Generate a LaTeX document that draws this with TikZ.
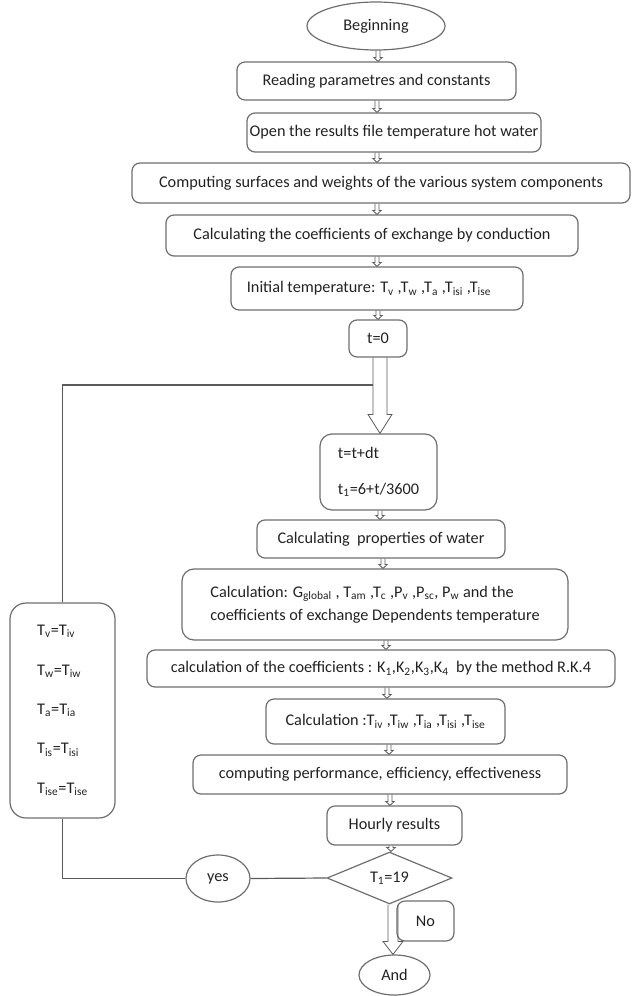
\documentclass[tikz,border=0pt]{standalone}
\usepackage{fontspec}
\setmainfont{Carlito}
\usetikzlibrary{shapes.geometric,calc}
\newcommand\sub[1]{\textsubscript{#1}}
\definecolor{bordc}{HTML}{6E6E6E}
\definecolor{linec}{HTML}{5A5A5A}
\definecolor{textc}{HTML}{222222}
% small hollow arrow between two stacked nodes, at abscissa #3 (px)
\newcommand\smallarr[3]{%
  \draw[arrline] let \p1=(#1.south), \p2=(#2.north), \p3=(#3,0) in
    (\x3-1.5pt,\y1) -- (\x3-1.5pt,\y2+3pt) -- (\x3-3.2pt,\y2+3pt) -- (\x3,\y2)
    -- (\x3+3.2pt,\y2+3pt) -- (\x3+1.5pt,\y2+3pt) -- (\x3+1.5pt,\y1);}
% big hollow arrow: #1 from, #2 to, #3 x (px), #4 shaft half, #5 head half, #6 head length
\newcommand\bigarr[6]{%
  \draw[arrline] let \p1=(#1), \p2=(#2.north), \p3=(#3,0) in
    (\x3-#4,\y1) -- (\x3-#4,\y2+#6) -- (\x3-#5,\y2+#6) -- (\x3,\y2)
    -- (\x3+#5,\y2+#6) -- (\x3+#4,\y2+#6) -- (\x3+#4,\y1);}
\tikzset{
  every node/.style={font=\fontsize{12.2}{15}\selectfont, text=textc},
  box/.style={draw=bordc, rounded corners=6pt, line width=0.9pt, inner sep=0pt, align=center},
  oval/.style={draw=bordc, ellipse, line width=0.9pt, inner sep=0pt},
  decis/.style={draw=bordc, diamond, line width=0.9pt, inner sep=0pt},
  arrline/.style={draw=linec, line width=0.6pt, line join=miter},
  conn/.style={draw=linec, line width=0.9pt}
}
\begin{document}
\begin{tikzpicture}[x=0.75pt, y=-0.75pt]
\useasboundingbox (0,0) rectangle (639,996);
\node[oval, minimum width=103.5pt, minimum height=36pt] (begin) at (376,26) {Beginning};
\node[box, minimum width=209.25pt, minimum height=28.5pt] (read) at (376.5,81) {Reading parametres and constants};
\node[box, minimum width=220.5pt, minimum height=29.25pt] (open) at (394,132.5) {Open the results file temperature hot water};
\node[box, minimum width=373.5pt, minimum height=30pt] (comp) at (381,183) {Computing surfaces and weights of the various system components};
\node[box, minimum width=309pt, minimum height=30.75pt] (coef) at (372,235.5) {Calculating the coefficients of exchange by conduction};
\node[box, minimum width=219pt, minimum height=32.25pt] (init) at (377,288.5) {Initial temperature: T\sub{v} ,T\sub{w} ,T\sub{a} ,T\sub{isi} ,T\sub{ise}\hspace{12pt}};
\node[box, minimum width=43.5pt, minimum height=27.75pt] (t0) at (378,338.5) {t=0};
\node[box, rounded corners=9pt, minimum width=87.75pt, minimum height=57pt, align=left, font=\fontsize{12.2}{27}\selectfont] (tdt) at (378.5,472) {t=t+dt\\t\sub{1}=6+t/3600};
\node[box, minimum width=186pt, minimum height=28.5pt] (props) at (381,539) {Calculating\ \ properties of water};
\node[box, rounded corners=9pt, minimum width=289.5pt, minimum height=53.25pt, align=left, font=\fontsize{12.2}{17.3}\selectfont] (calcg) at (375,604.5) {Calculation: G\sub{global} , T\sub{am} ,T\sub{c} ,P\sub{v} ,P\sub{sc}, P\sub{w} and the\\coefficients of exchange Dependents temperature};
\node[box, minimum width=351pt, minimum height=27.75pt] (kcoef) at (381,668.5) {calculation of the coefficients : K\sub{1},K\sub{2},K\sub{3},K\sub{4}\ \ by the method R.K.4};
\node[box, minimum width=179.25pt, minimum height=33.75pt] (calct) at (385.5,721.5) {Calculation :T\sub{iv} ,T\sub{iw} ,T\sub{ia} ,T\sub{isi} ,T\sub{ise}};
\node[box, minimum width=280.5pt, minimum height=29.25pt] (perf) at (380,774.5) {computing performance, efficiency, effectiveness};
\node[box, minimum width=101.25pt, minimum height=29.25pt] (hour) at (394.5,825.5) {Hourly results};
\node[decis, minimum width=93.75pt, minimum height=33pt] (dec) at (389.5,878) {T\sub{1}=19};
\node[box, minimum width=42.75pt, minimum height=30pt] (no) at (425.5,921) {No};
\node[oval, minimum width=53.25pt, minimum height=30pt] (end) at (394.5,975) {And};
\node[oval, minimum width=48pt, minimum height=35.25pt] (yes) at (218,878.5) {yes};
\node[box, rounded corners=12pt, minimum width=78.75pt, minimum height=161.25pt, align=left, font=\fontsize{12.2}{29.6}\selectfont] (upd) at (62.5,710.5)
  {T\sub{v}=T\sub{iv}\\T\sub{w}=T\sub{iw}\\T\sub{a}=T\sub{ia}\\T\sub{is}=T\sub{isi}\\T\sub{ise}=T\sub{ise}};
% small hollow arrows
\smallarr{begin}{read}{378}
\smallarr{read}{open}{377}
\smallarr{open}{comp}{377}
\smallarr{comp}{coef}{377}
\smallarr{coef}{init}{377}
\smallarr{init}{t0}{378}
\smallarr{tdt}{props}{380}
\smallarr{props}{calcg}{383}
\smallarr{calcg}{kcoef}{386}
\smallarr{kcoef}{calct}{387}
\smallarr{calct}{perf}{389}
\smallarr{perf}{hour}{390}
\smallarr{hour}{dec}{391}
% big hollow arrows
\bigarr{t0.south}{tdt}{380}{5.25pt}{9pt}{14.25pt}
\bigarr{dec.south}{end}{393}{3.75pt}{7.5pt}{9.75pt}
% loop back
\coordinate (join) at (373,385);
\draw[conn] (join) -| (upd.north);
\draw[conn] (upd.south) |- (yes.west);
\draw[conn] (yes.east) -- (dec.west);
\end{tikzpicture}
\end{document}
